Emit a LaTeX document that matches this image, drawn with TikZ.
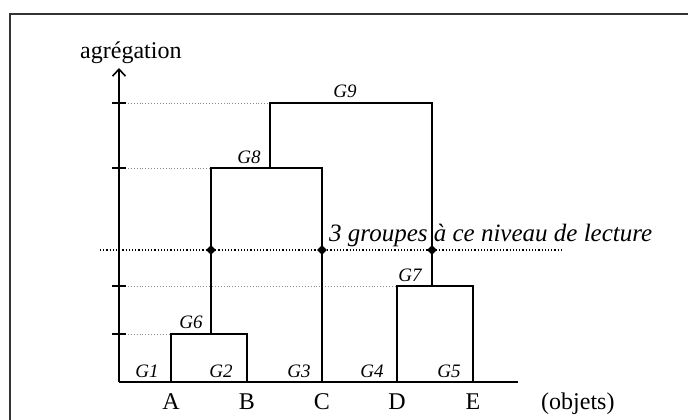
\documentclass[tikz,border=0pt]{standalone}
\usepackage{fontspec}
\setmainfont{Liberation Serif}
\usetikzlibrary{arrows.meta,shapes.geometric}
\begin{document}
\begin{tikzpicture}[x=1pt,y=-1pt,
  frameline/.style={draw=black!80,line width=1.6pt},
  axisline/.style={draw=black,line width=1.7pt},
  treeline/.style={draw=black,line width=1.7pt},
  gridline/.style={draw=black!45,line width=0.9pt,dotted},
  cutline/.style={draw=black,line width=1.2pt,dotted},
  cutdot/.style={fill=black,diamond,inner sep=0pt,minimum size=10pt},
  glabel/.style={font=\fontsize{19}{19}\selectfont\itshape,anchor=base,inner sep=0pt},
  leaflabel/.style={font=\fontsize{24}{24}\selectfont,anchor=base,inner sep=0pt},
  textlabel/.style={font=\fontsize{24}{24}\selectfont,anchor=base west,inner sep=0pt}]
\useasboundingbox (0,0) rectangle (688,420);
% frame (only top and left edges visible)
\draw[frameline] (688,14) -- (10,14) -- (10,420);
% coordinates
\coordinate (O) at (119,382);
\coordinate (ytop) at (119,68);
\coordinate (xend) at (518,382);
\coordinate (a) at (171,382);
\coordinate (b) at (247,382);
\coordinate (c) at (322,382);
\coordinate (d) at (397,382);
\coordinate (e) at (473,382);
\coordinate (g6l) at (171,334); \coordinate (g6r) at (247,334); \coordinate (g6m) at (211,334);
\coordinate (g7l) at (397,286); \coordinate (g7r) at (473,286); \coordinate (g7m) at (432,286);
\coordinate (g8l) at (211,168); \coordinate (g8r) at (322,168); \coordinate (g8m) at (270,168);
\coordinate (g9l) at (270,103); \coordinate (g9r) at (432,103);
% grid dotted lines
\draw[gridline] (125,103) -- (g9l);
\draw[gridline] (125,168) -- (g8l);
\draw[gridline] (125,286) -- (g7l);
\draw[gridline] (125,334) -- (g6l);
% cut line
\coordinate (cutL) at (100,250);
\coordinate (cutR) at (561,250);
\draw[cutline] (cutL) -- (cutR);
% axes
\draw[axisline,-{Straight Barb[length=7pt,width=13pt,line width=1.6pt]}] (O) -- (ytop);
\draw[axisline] (O) -- (xend);
\foreach \h in {103,168,286,334} \draw[axisline] (112,\h) -- (126,\h);
% dendrogram
\draw[treeline] (a) -- (g6l) -- (g6r) -- (b);
\draw[treeline] (d) -- (g7l) -- (g7r) -- (e);
\draw[treeline] (g6m) -- (g8l) -- (g8r) -- (c);
\draw[treeline] (g7m) -- (g9r) -- (g9l) -- (g8m);
% cut dots
\node[cutdot] (k1) at (211,250) {};
\node[cutdot] (k2) at (322,250) {};
\node[cutdot] (k3) at (432,250) {};
% labels
\node[textlabel] (agr) at (80,59) {agrégation};
\node[textlabel] (obj) at (541,409) {(objets)};
\node[leaflabel] (lA) at (171,409) {A};
\node[leaflabel] (lB) at (247,409) {B};
\node[leaflabel] (lC) at (322,409) {C};
\node[leaflabel] (lD) at (397,409) {D};
\node[leaflabel] (lE) at (473,409) {E};
\node[glabel] (G1) at (147,377) {G1};
\node[glabel] (G2) at (221,377) {G2};
\node[glabel] (G3) at (299,377) {G3};
\node[glabel] (G4) at (372,377) {G4};
\node[glabel] (G5) at (449,377) {G5};
\node[glabel] (G6) at (191,328) {G6};
\node[glabel] (G7) at (410,281) {G7};
\node[glabel] (G8) at (249,163) {G8};
\node[glabel] (G9) at (345,97) {G9};
\node[textlabel,font=\fontsize{25}{25}\selectfont\itshape] (cutlbl) at (329,241) {3 groupes à ce niveau de lecture};
\end{tikzpicture}
\end{document}
